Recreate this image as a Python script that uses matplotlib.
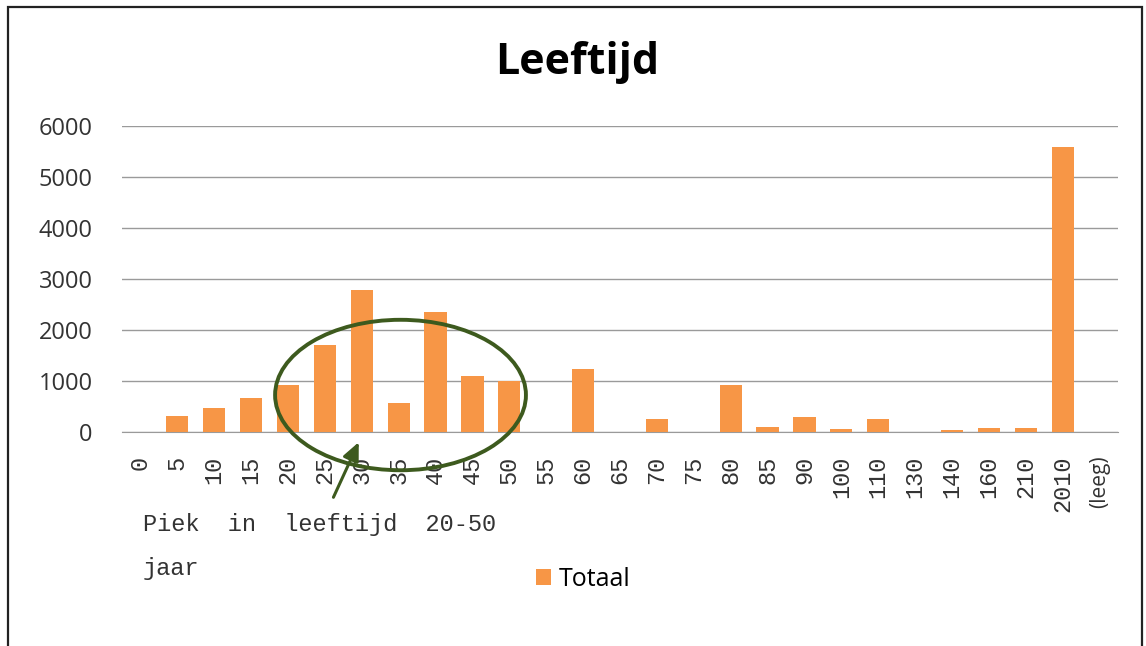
import numpy as np
import matplotlib.pyplot as plt
from matplotlib.patches import Ellipse, Rectangle

categories = ["0", "5", "10", "15", "20", "25", "30", "35", "40", "45", "50", "55",
              "60", "65", "70", "75", "80", "85", "90", "100", "110", "130", "140",
              "160", "210", "2010", "(leeg)"]
totaal = [0, 310, 480, 660, 920, 1700, 2780, 570, 2350, 1100, 1000, 0,
          1230, 0, 250, 0, 920, 100, 300, 50, 250, 0, 40,
          70, 70, 5580, 0]
yticks = [0, 1000, 2000, 3000, 4000, 5000, 6000]

W, H = 1146, 646
fig = plt.figure(figsize=(W / 100, H / 100), dpi=100)
fig.patch.set_facecolor("white")

# outer chart frame
fig.patches.append(Rectangle((8 / W, -0.01), 1134 / W, 1 - 7 / H + 0.01,
                             transform=fig.transFigure, fill=False,
                             edgecolor="#222222", lw=1.6))

ax = fig.add_axes([122 / W, 1 - 432 / H, 996 / W, 306 / H])
x = np.arange(len(categories))
ax.bar(x, totaal, width=0.6, color="#F79646", zorder=3, label="Totaal")

ax.set_xlim(-0.5, len(categories) - 0.5)
ax.set_ylim(0, 6000)
ax.set_yticks(yticks)
ax.set_yticklabels([str(v) for v in yticks], fontsize=17, family="Open Sans",
                   color="#333333")
ax.set_xticks(x)
ax.set_xticklabels(categories, rotation=90, fontsize=17, family="Liberation Mono",
                   color="#333333")
# the empty-category label is drawn in the sans font in the original
ax.get_xticklabels()[-1].set_family("Open Sans")
ax.get_xticklabels()[-1].set_fontsize(15)
ax.tick_params(length=0)
ax.tick_params(axis="x", pad=17)
ax.tick_params(axis="y", pad=21)
ax.grid(axis="y", color="#9a9a9a", lw=1.0, zorder=0)
for s in ["top", "right", "left"]:
    ax.spines[s].set_visible(False)
ax.spines["bottom"].set_color("#9a9a9a")

fig.text(577 / W, 1 - 62 / H, "Leeftijd", ha="center", va="center",
         fontsize=31, fontweight="bold", family="Open Sans")

# annotation: ellipse around peak and arrow
ell = Ellipse((7.05, 725), width=6.8, height=2950, fill=False,
              edgecolor="#3d5a1e", lw=2.8, clip_on=False, zorder=5)
ax.add_patch(ell)
ax.annotate("", xy=(5.95, -150), xytext=(5.2, -1330),
            arrowprops=dict(arrowstyle="-|>,head_length=1.1,head_width=0.5",
                            color="#3d5a1e", lw=2.2),
            annotation_clip=False, zorder=5)

fig.text(143 / W, 1 - 525 / H, "Piek  in  leeftijd  20-50", ha="left", va="center",
         fontsize=17, family="Liberation Mono", color="#333333")
fig.text(143 / W, 1 - 568 / H, "jaar", ha="left", va="center",
         fontsize=17, family="Liberation Mono", color="#333333")

leg = fig.legend(loc="center", bbox_to_anchor=(583 / W, 1 - 579 / H), frameon=False,
                 prop={"family": "Open Sans", "size": 18}, handlelength=0.6,
                 handleheight=0.6, handletextpad=0.3)

fig.savefig("out.png", dpi=100)
